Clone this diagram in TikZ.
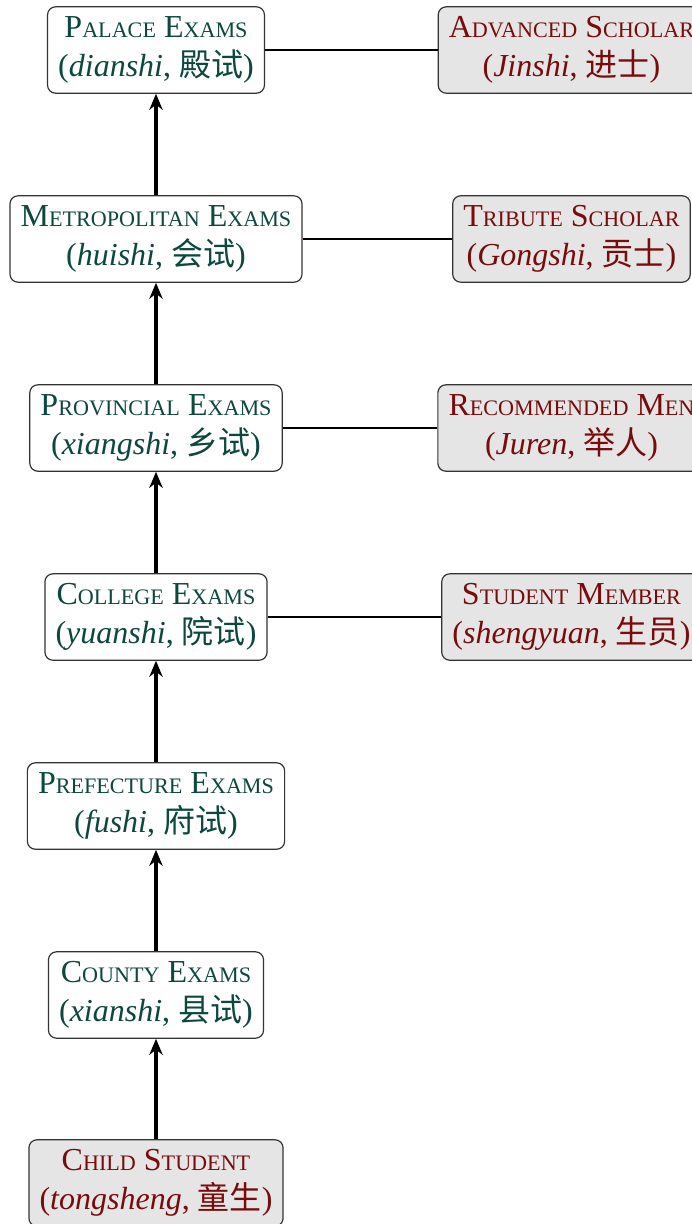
\documentclass[tikz,border=0pt]{standalone}
\usepackage{fontspec}
\setmainfont{Liberation Serif}
\newfontfamily\cjk{Noto Sans CJK SC}
\usetikzlibrary{arrows.meta}
\definecolor{examgreen}{RGB}{12,72,62}
\definecolor{titlered}{RGB}{120,12,12}
% fake small caps: capital letter + smaller capitals
\newcommand{\fsc}[2]{#1{\fontsize{8.3}{10}\selectfont #2}}
\tikzset{
  exambox/.style={draw=black!80,line width=0.45pt,rounded corners=3pt,fill=white,
    text=examgreen,align=center,inner xsep=4pt,minimum height=32.4pt,font=\fontsize{12}{14.5}\selectfont},
  titlebox/.style={exambox,fill=black!10,text=titlered},
  rungarrow/.style={-{Stealth[length=6pt,width=5pt]},line width=1.2pt},
  linkline/.style={line width=0.45pt}
}
\begin{document}
\begin{tikzpicture}[x=0.375pt,y=-0.375pt]
\useasboundingbox (0,0) rectangle (692,1224);
% ---------- exam ladder ----------
\node[exambox] (palace) at (156,50) {\fsc{P}{ALACE} \fsc{E}{XAMS}\\(\textit{dianshi}, {\cjk 殿试})};
\node[exambox] (metro) at (156,239) {\fsc{M}{ETROPOLITAN} \fsc{E}{XAMS}\\(\textit{huishi}, {\cjk 会试})};
\node[exambox] (prov) at (156,428) {\fsc{P}{ROVINCIAL} \fsc{E}{XAMS}\\(\textit{xiangshi}, {\cjk 乡试})};
\node[exambox] (college) at (156,617) {\fsc{C}{OLLEGE} \fsc{E}{XAMS}\\(\textit{yuanshi}, {\cjk 院试})};
\node[exambox] (prefect) at (156,806) {\fsc{P}{REFECTURE} \fsc{E}{XAMS}\\(\textit{fushi}, {\cjk 府试})};
\node[exambox] (county) at (156,995) {\fsc{C}{OUNTY} \fsc{E}{XAMS}\\(\textit{xianshi}, {\cjk 县试})};
\node[titlebox] (child) at (156,1183) {\fsc{C}{HILD} \fsc{S}{TUDENT}\\(\textit{tongsheng}, {\cjk 童生})};
% ---------- titles ----------
\node[titlebox] (jinshi) at (571.5,50) {\fsc{A}{DVANCED} \fsc{S}{CHOLAR}\\(\textit{Jinshi}, {\cjk 进士})};
\node[titlebox] (gongshi) at (571.5,239) {\fsc{T}{RIBUTE} \fsc{S}{CHOLAR}\\(\textit{Gongshi}, {\cjk 贡士})};
\node[titlebox] (juren) at (571.5,428) {\fsc{R}{ECOMMENDED} \fsc{M}{EN}\\(\textit{Juren}, {\cjk 举人})};
\node[titlebox] (shengyuan) at (571.5,617) {\fsc{S}{TUDENT} \fsc{M}{EMBER}\\(\textit{shengyuan}, {\cjk 生员})};
% ---------- connectors ----------
\draw[rungarrow] (child) -- (county);
\draw[rungarrow] (county) -- (prefect);
\draw[rungarrow] (prefect) -- (college);
\draw[rungarrow] (college) -- (prov);
\draw[rungarrow] (prov) -- (metro);
\draw[rungarrow] (metro) -- (palace);
\draw[linkline] (palace) -- (jinshi);
\draw[linkline] (metro) -- (gongshi);
\draw[linkline] (prov) -- (juren);
\draw[linkline] (college) -- (shengyuan);
\end{tikzpicture}
\end{document}
